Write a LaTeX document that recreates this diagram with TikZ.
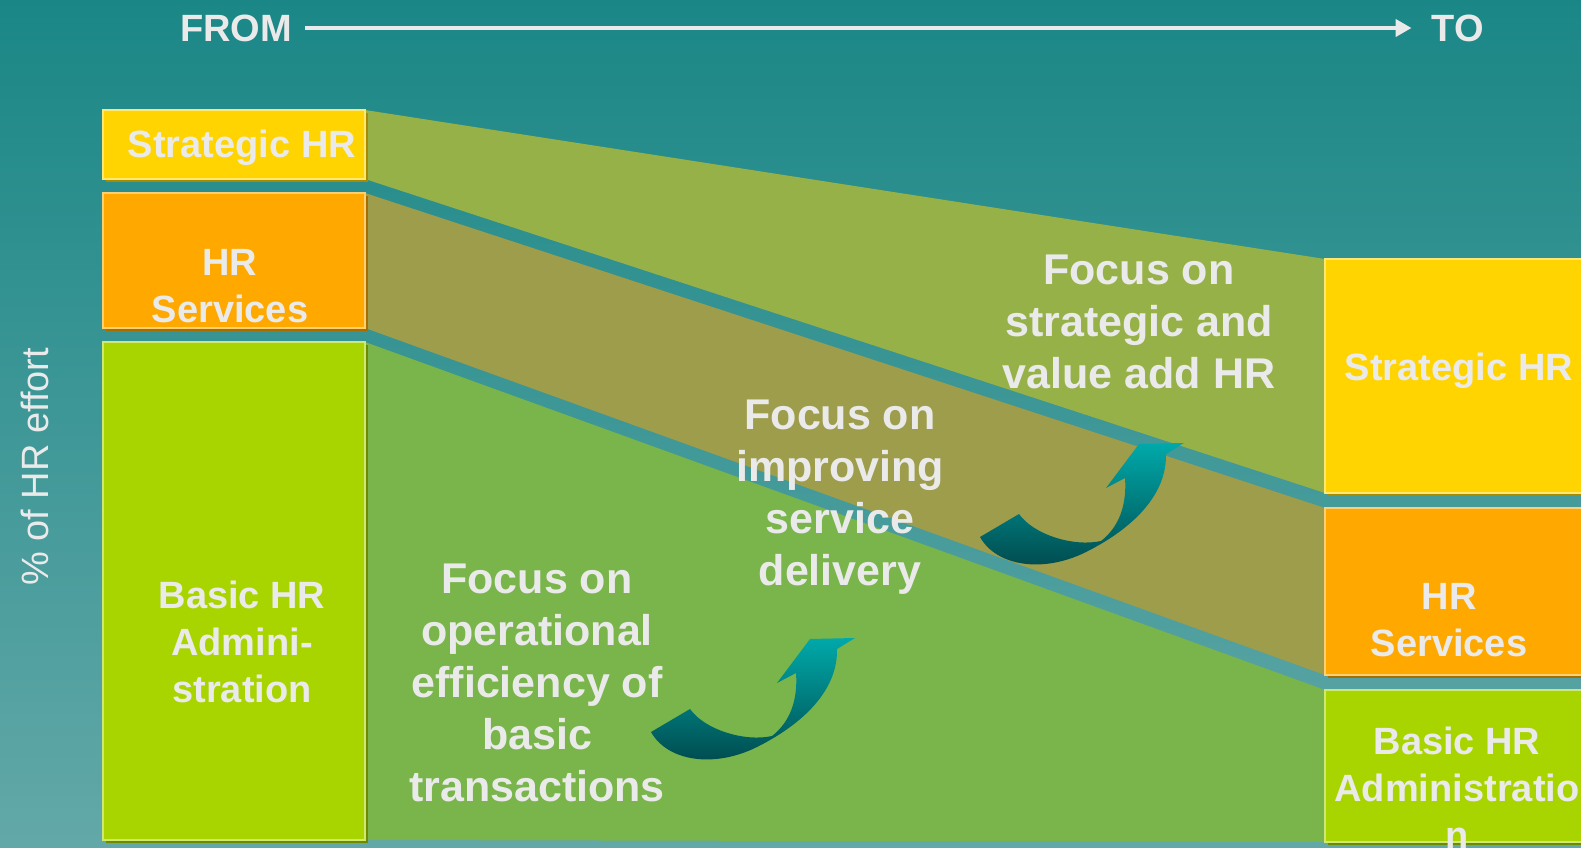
\documentclass[tikz,border=0pt]{standalone}
\usepackage{fontspec}
\setmainfont{Liberation Sans}
\usetikzlibrary{arrows.meta,shadows}

\definecolor{bgtop}{HTML}{1A8786}
\definecolor{bgbot}{HTML}{63A8A8}
\definecolor{stratyel}{HTML}{FFD400}
\definecolor{servorange}{HTML}{FFA800}
\definecolor{basiclime}{HTML}{A8D400}
\definecolor{bandstrat}{HTML}{97B149}
\definecolor{bandserv}{HTML}{9E9D4C}
\definecolor{bandbasic}{HTML}{79B54B}
\definecolor{labelgrey}{HTML}{EAEAEA}
\definecolor{curltop}{HTML}{00A9AA}
\definecolor{curlbot}{HTML}{00474A}

\pgfdeclarelayer{back}
\pgfsetlayers{back,main}

\begin{document}
\begin{tikzpicture}[x=0.5pt,y=-0.5pt,
    hrbox/.style={anchor=north west,inner sep=0pt,outer sep=0pt,line width=0.6pt},
    strat box/.style={hrbox,fill=stratyel,draw=stratyel!55!white,
      general shadow={fill=stratyel!65!black,shadow xshift=1.5pt,shadow yshift=-1.5pt}},
    serv box/.style={hrbox,fill=servorange,draw=servorange!55!white,
      general shadow={fill=servorange!65!black,shadow xshift=1.5pt,shadow yshift=-1.5pt}},
    basic box/.style={hrbox,fill=basiclime,draw=basiclime!55!white,
      general shadow={fill=basiclime!65!black,shadow xshift=1.5pt,shadow yshift=-1.5pt}},
    box text/.style={text=labelgrey,font=\bfseries\fontsize{19}{23.5}\selectfont,align=center},
    focus text/.style={text=labelgrey,font=\bfseries\fontsize{21.5}{26}\selectfont,align=center},
    curl/.style={top color=curltop,bottom color=curlbot,draw=none}]

  \useasboundingbox (0,0) rectangle (1581,847);
  \clip (0,0) rectangle (1581,847);

  % left column (from)
  \node[strat box,minimum width=131pt,minimum height=34.5pt] (lstrat) at (103,110) {};
  \node[serv box,minimum width=131pt,minimum height=67.5pt] (lserv) at (103,193) {};
  \node[basic box,minimum width=131pt,minimum height=249pt] (lbasic) at (103,342) {};

  % right column (to)
  \node[strat box,minimum width=140pt,minimum height=117pt] (rstrat) at (1325,259) {};
  \node[serv box,minimum width=140pt,minimum height=83.5pt] (rserv) at (1325,508) {};
  \node[basic box,minimum width=140pt,minimum height=76pt] (rbasic) at (1325,690) {};

  \begin{pgfonlayer}{back}
    \shade[top color=bgtop,bottom color=bgbot] (0,0) rectangle (1581,847);
    \fill[bandstrat] (lstrat.north east) -- (rstrat.north west)
      -- (rstrat.south west) -- (lstrat.south east) -- cycle;
    \fill[bandserv] (lserv.north east) -- (rserv.north west)
      -- (rserv.south west) -- (lserv.south east) -- cycle;
    \fill[bandbasic] (lbasic.north east) -- (rbasic.north west)
      -- (rbasic.south west) -- (lbasic.south east) -- cycle;
  \end{pgfonlayer}

  % labels
  \node[box text] (lstrattxt) at (242,148) {Strategic HR};
  \node[box text] (lservtxt) at (230,286) {HR\\Services};
  \node[box text] (lbasictxt) at (242,642) {Basic HR\\Admini-\\stration};
  \node[box text] (rstrattxt) at (1459,371) {Strategic HR};
  \node[box text] (rservtxt) at (1449,620) {HR\\Services};
  \node[box text] (rbasictxt) at (1457,788) {Basic HR\\Administratio\\n};

  \node[focus text] (focusstrat) at (1139,322) {Focus on\\strategic and\\value add HR};
  \node[focus text] (focusserv) at (840,497) {Focus on\\improving\\service\\delivery};
  \node[focus text] (focusbasic) at (537,683) {Focus on\\operational\\efficiency of\\basic\\transactions};

  \node[text=labelgrey,font=\fontsize{19}{23}\selectfont,rotate=90] (effort) at (35,467) {\% of HR effort};

  % from -> to
  \node[box text,inner sep=0pt] (from) at (236,28) {FROM};
  \node[box text,inner sep=0pt] (to) at (1458,28) {TO};
  \draw[-{Triangle[length=8pt,width=8.5pt]},line width=2pt,labelgrey,
    shorten <=6.5pt,shorten >=10pt] (from) -- (to);

  % curled arrows
  \foreach \dx/\dy in {0/0,329/-195}
    \shade[curl,shift={(\dx,\dy)}] (651,732)
      .. controls (668,762) and (715,768) .. (757,747)
      .. controls (795,728) and (838,695) .. (837,649)
      -- (855,638) -- (810,639) -- (777,683) -- (796,673)
      .. controls (798,700) and (790,722) .. (772,736)
      .. controls (745,742) and (705,730) .. (690,709) -- cycle;
\end{tikzpicture}
\end{document}
